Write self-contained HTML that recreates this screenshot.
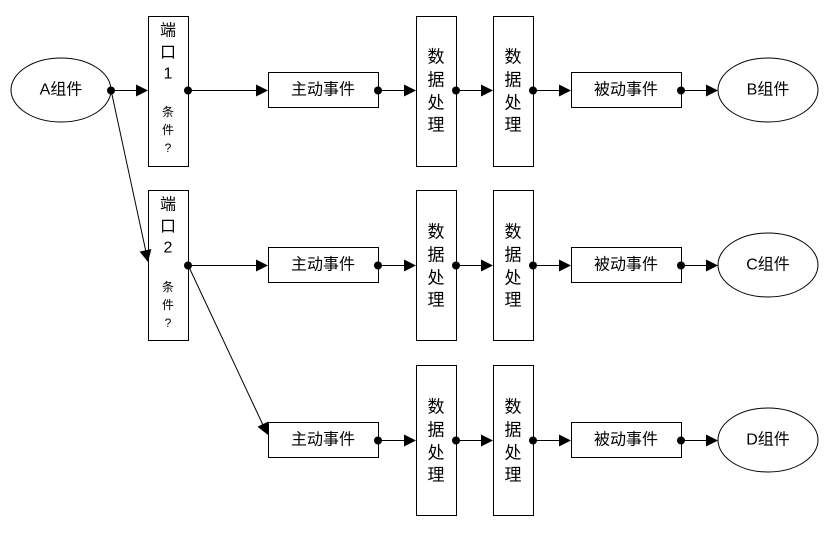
<!DOCTYPE html>
<html><head><meta charset="utf-8"><style>
html,body{margin:0;padding:0;background:#fff;}
svg{display:block;}
text{font-family:"Liberation Sans","Noto Sans CJK SC",sans-serif;fill:#000;}
</style></head><body>
<svg width="839" height="537" viewBox="0 0 839 537" xmlns="http://www.w3.org/2000/svg">
<g fill="#fff" stroke="#000" stroke-width="1">
<ellipse cx="61" cy="90" rx="50" ry="32"/>
<ellipse cx="768" cy="90" rx="50" ry="32"/>
<ellipse cx="768" cy="265" rx="50" ry="32"/>
<ellipse cx="768" cy="440" rx="50" ry="32"/>
<rect x="148.5" y="16.5" width="40" height="150"/>
<rect x="148.5" y="190.5" width="40" height="150"/>
<rect x="268.5" y="72.5" width="110" height="35"/>
<rect x="268.5" y="247.5" width="110" height="35"/>
<rect x="268.5" y="422.5" width="110" height="35"/>
<rect x="416.5" y="16.5" width="40" height="150"/>
<rect x="416.5" y="190.5" width="40" height="150"/>
<rect x="416.5" y="365.5" width="40" height="150"/>
<rect x="493.5" y="16.5" width="40" height="150"/>
<rect x="493.5" y="190.5" width="40" height="150"/>
<rect x="493.5" y="365.5" width="40" height="150"/>
<rect x="571.5" y="72.5" width="110" height="35"/>
<rect x="571.5" y="247.5" width="110" height="35"/>
<rect x="571.5" y="422.5" width="110" height="35"/>
</g>
<g stroke="#000" stroke-width="1">
<line x1="111" y1="90.5" x2="138" y2="90.5"/>
<line x1="188" y1="90.5" x2="258" y2="90.5"/>
<line x1="378" y1="90.5" x2="406" y2="90.5"/>
<line x1="456" y1="90.5" x2="483" y2="90.5"/>
<line x1="533" y1="90.5" x2="561" y2="90.5"/>
<line x1="681" y1="90.5" x2="708" y2="90.5"/>
<line x1="188" y1="265.5" x2="258" y2="265.5"/>
<line x1="378" y1="265.5" x2="406" y2="265.5"/>
<line x1="456" y1="265.5" x2="483" y2="265.5"/>
<line x1="533" y1="265.5" x2="561" y2="265.5"/>
<line x1="681" y1="265.5" x2="708" y2="265.5"/>
<line x1="378" y1="440.5" x2="406" y2="440.5"/>
<line x1="456" y1="440.5" x2="483" y2="440.5"/>
<line x1="533" y1="440.5" x2="561" y2="440.5"/>
<line x1="681" y1="440.5" x2="708" y2="440.5"/>
<line x1="111" y1="90" x2="146" y2="252"/>
<line x1="188" y1="265" x2="263" y2="425"/>
</g>
<g fill="#000">
<circle cx="111" cy="90.5" r="4"/>
<circle cx="188" cy="90.5" r="4"/>
<circle cx="378" cy="90.5" r="4"/>
<circle cx="456" cy="90.5" r="4"/>
<circle cx="533" cy="90.5" r="4"/>
<circle cx="681" cy="90.5" r="4"/>
<circle cx="188" cy="265.5" r="4"/>
<circle cx="378" cy="265.5" r="4"/>
<circle cx="456" cy="265.5" r="4"/>
<circle cx="533" cy="265.5" r="4"/>
<circle cx="681" cy="265.5" r="4"/>
<circle cx="378" cy="440.5" r="4"/>
<circle cx="456" cy="440.5" r="4"/>
<circle cx="533" cy="440.5" r="4"/>
<circle cx="681" cy="440.5" r="4"/>
<polygon points="136,84.5 148,90.5 136,96.5"/>
<polygon points="256,84.5 268,90.5 256,96.5"/>
<polygon points="404,84.5 416,90.5 404,96.5"/>
<polygon points="481,84.5 493,90.5 481,96.5"/>
<polygon points="559,84.5 571,90.5 559,96.5"/>
<polygon points="706,84.5 718,90.5 706,96.5"/>
<polygon points="256,259.5 268,265.5 256,271.5"/>
<polygon points="404,259.5 416,265.5 404,271.5"/>
<polygon points="481,259.5 493,265.5 481,271.5"/>
<polygon points="559,259.5 571,265.5 559,271.5"/>
<polygon points="706,259.5 718,265.5 706,271.5"/>
<polygon points="404,434.5 416,440.5 404,446.5"/>
<polygon points="481,434.5 493,440.5 481,446.5"/>
<polygon points="559,434.5 571,440.5 559,446.5"/>
<polygon points="706,434.5 718,440.5 706,446.5"/>
<polygon points="148,262 151.4,249 139.6,251.6"/>
<polygon points="268,435 268.3,421.5 257.5,426.7"/>
</g>
<g font-size="16" text-anchor="middle" dominant-baseline="central">
<text x="61" y="90">A组件</text>
<text x="768" y="90">B组件</text>
<text x="768" y="265">C组件</text>
<text x="768" y="440">D组件</text>
<text x="323" y="90">主动事件</text>
<text x="323" y="265">主动事件</text>
<text x="323" y="440">主动事件</text>
<text x="626" y="90">被动事件</text>
<text x="626" y="265">被动事件</text>
<text x="626" y="440">被动事件</text>
<text x="168" y="31">端</text><text x="168" y="53">口</text><text x="168" y="74">1</text>
<text x="168" y="205">端</text><text x="168" y="227">口</text><text x="168" y="248">2</text>
</g>
<g font-size="12" text-anchor="middle" dominant-baseline="central">
<text x="168" y="112">条</text><text x="168" y="130">件</text><text x="168" y="148">?</text>
<text x="168" y="287">条</text><text x="168" y="305">件</text><text x="168" y="323">?</text>
</g>
<g font-size="17" text-anchor="middle" dominant-baseline="central">
<text x="436" y="57">数</text><text x="436" y="80">据</text><text x="436" y="103">处</text><text x="436" y="125">理</text>
<text x="513" y="57">数</text><text x="513" y="80">据</text><text x="513" y="103">处</text><text x="513" y="125">理</text>
<text x="436" y="232">数</text><text x="436" y="255">据</text><text x="436" y="278">处</text><text x="436" y="300">理</text>
<text x="513" y="232">数</text><text x="513" y="255">据</text><text x="513" y="278">处</text><text x="513" y="300">理</text>
<text x="436" y="407">数</text><text x="436" y="430">据</text><text x="436" y="453">处</text><text x="436" y="475">理</text>
<text x="513" y="407">数</text><text x="513" y="430">据</text><text x="513" y="453">处</text><text x="513" y="475">理</text>
</g>
</svg>
</body></html>
